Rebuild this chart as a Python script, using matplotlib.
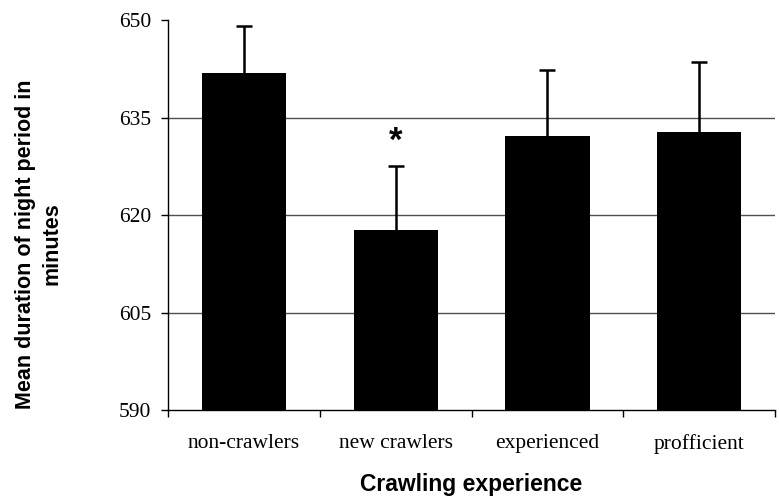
import matplotlib
matplotlib.use("Agg")
import matplotlib.pyplot as plt
import numpy as np

categories = ["non-crawlers", "new crawlers", "experienced", "profficient"]
means = [641.8, 617.7, 632.2, 632.8]
err_upper = [7.3, 9.9, 10.1, 10.8]
sig_marks = ["", "*", "", ""]

fig = plt.figure(figsize=(7.79, 5.0), dpi=100)
ax = fig.add_axes([0.2157, 0.18, 0.7793, 0.78])

x = np.arange(len(categories))
ax.bar(x, [m - 590 for m in means], bottom=590, width=0.555, color="black", zorder=3)
eb = ax.errorbar(x, means, yerr=[np.zeros(len(means)), err_upper], fmt="none",
                 ecolor="black", elinewidth=1.8, capsize=5.5, capthick=1.8, zorder=4)
# only the upper cap, like the original
eb[1][0].set_visible(False)

for xi, m, e, s in zip(x, means, err_upper, sig_marks):
    if s:
        ax.text(xi, m + e + 1.2, s, ha="center", va="bottom", fontsize=25,
                fontweight="bold", family="Liberation Sans")

ax.set_ylim(590, 650)
ax.set_xlim(-0.5, len(categories) - 0.5)
ax.set_yticks([590, 605, 620, 635, 650])
for yv in [605, 620, 635]:
    ax.axhline(yv, color="#505050", linewidth=1.0, zorder=1)

ax.set_xticks(np.arange(len(categories) + 1) - 0.5, minor=False)
ax.set_xticklabels([])
ax.set_xticks(x, minor=True)
ax.set_xticklabels(categories, minor=True, family="Liberation Serif", fontsize=15.5)
ax.tick_params(axis="x", which="minor", length=0, pad=17)
ax.tick_params(axis="x", which="major", length=5, direction="out", width=1)
ax.tick_params(axis="y", length=5, direction="out", width=1, pad=7)
for lbl in ax.get_yticklabels():
    lbl.set_family("Liberation Serif")
    lbl.set_fontsize(15.5)

ax.spines["top"].set_visible(False)
ax.spines["right"].set_visible(False)
ax.spines["left"].set_linewidth(1.0)
ax.spines["bottom"].set_linewidth(1.0)

fig.text(471 / 779, 15 / 500, "Crawling experience", family="Liberation Sans",
         fontweight="bold", fontsize=16.5, ha="center", va="center")
fig.text(38.5 / 779, 256 / 500, "Mean duration of night period in\nminutes",
         family="Liberation Sans", fontweight="bold", fontsize=15.5,
         rotation=90, ha="center", va="center", multialignment="center",
         linespacing=1.35)

fig.savefig("out.png", dpi=100)
